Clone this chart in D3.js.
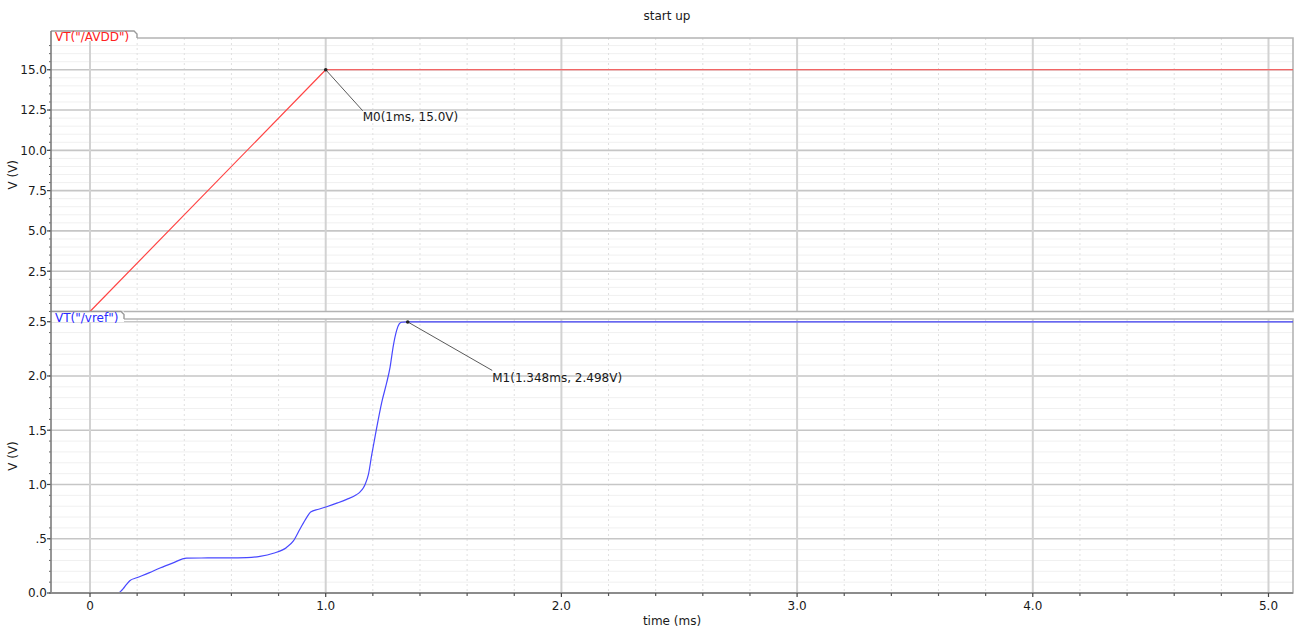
<!DOCTYPE html>
<html>
<head>
<meta charset="utf-8">
<script src="https://cdn.jsdelivr.net/npm/d3@7"></script>
<style>
  body { margin: 0; background: #fff; }
  svg { display: block; }
  text { font-family: "DejaVu Sans", sans-serif; font-size: 12px; fill: #1a1a1a; }
</style>
</head>
<body>
<svg id="chart" width="1298" height="629"></svg>
<script>
// ---- text ----
const chartTitle = "start up";
const xLabel = "time (ms)";
const yLabel = "V (V)";
const avddName = 'VT("/AVDD")';
const vrefName = 'VT("/vref")';

// ---- axis ticks ----
const timeTicks = [0, 1, 2, 3, 4, 5];
const timeTickLabels = ["0", "1.0", "2.0", "3.0", "4.0", "5.0"];
const avddTicks = [2.5, 5, 7.5, 10, 12.5, 15];
const avddTickLabels = ["2.5", "5.0", "7.5", "10.0", "12.5", "15.0"];
const vrefTicks = [0, 0.5, 1, 1.5, 2, 2.5];
const vrefTickLabels = ["0.0", ".5", "1.0", "1.5", "2.0", "2.5"];

// ---- waveforms (time in ms, voltage in V) ----
const avddTime = [0, 1.0, 5.104];
const avddVolt = [0, 15.0, 15.0];

const vrefTime = [0, 0.12, 0.13, 0.141, 0.155, 0.17, 0.198, 0.25, 0.297, 0.35, 0.41,
  0.5, 0.6, 0.665, 0.721, 0.778, 0.834, 0.863, 0.891, 0.919, 0.936, 0.97, 1.004,
  1.05, 1.089, 1.13, 1.146, 1.16, 1.167, 1.181, 1.195, 1.216, 1.238, 1.259, 1.273,
  1.287, 1.301, 1.312, 1.322, 1.348, 5.104];
const vrefVolt = [0, 0, 0.015, 0.04, 0.08, 0.115, 0.14, 0.185, 0.23, 0.275, 0.322,
  0.323, 0.324, 0.326, 0.337, 0.366, 0.42, 0.48, 0.59, 0.695, 0.747, 0.772, 0.795,
  0.83, 0.863, 0.905, 0.932, 0.97, 1.0, 1.09, 1.27, 1.52, 1.76, 1.94, 2.08,
  2.28, 2.42, 2.48, 2.495, 2.498, 2.498];

// ---- markers ----
const markerPanel = [0, 1];
const markerTime = [1.0, 1.348];
const markerVolt = [15.0, 2.498];
const markerText = ["M0(1ms, 15.0V)", "M1(1.348ms, 2.498V)"];

// ---- layout ----
const svg = d3.select("#chart");
const L = 51, R = 1293;
const x = d3.scaleLinear().domain([-0.1655, 5.104]).range([L, R]);

const panels = [
  { top: 38, bottom: 311.5, y: d3.scaleLinear().domain([0, 16.97]).range([311.5, 38]),
    ticks: avddTicks, labels: avddTickLabels, minor: 0.5,
    t: avddTime, v: avddVolt, color: "#ff4646", name: avddName, tabW: 86, curve: d3.curveLinear },
  { top: 319, bottom: 593, y: d3.scaleLinear().domain([0, 2.525]).range([593, 319]),
    ticks: vrefTicks, labels: vrefTickLabels, minor: 0.1,
    t: vrefTime, v: vrefVolt, color: "#4848ff", name: vrefName, tabW: 73, curve: d3.curveMonotoneX }
];

const minorT = d3.range(-0.2, 5.2001, 0.2).map(d => +d.toFixed(2))
  .filter(d => x(d) > L && x(d) < R && !timeTicks.includes(d));

panels.forEach((p, i) => {
  const g = svg.append("g");
  const [d0, d1] = p.y.domain();
  const clipId = "clip" + i;
  svg.append("clipPath").attr("id", clipId)
    .append("rect").attr("x", L).attr("y", p.top - 1).attr("width", R - L).attr("height", p.bottom - p.top + 2);

  // minor horizontal grid
  const minorV = d3.range(p.minor, d1, p.minor).map(d => +d.toFixed(2))
    .filter(d => !p.ticks.some(t => Math.abs(t - d) < 1e-6));
  g.selectAll(".mh").data(minorV).join("line")
    .attr("x1", L).attr("x2", R)
    .attr("y1", d => p.y(d)).attr("y2", d => p.y(d))
    .attr("stroke", "#f0f0f0").attr("stroke-width", 1);

  // minor vertical grid (dotted)
  g.selectAll(".mv").data(minorT).join("line")
    .attr("x1", d => x(d)).attr("x2", d => x(d))
    .attr("y1", p.top).attr("y2", p.bottom)
    .attr("stroke", "#e0e0e0").attr("stroke-width", 1).attr("stroke-dasharray", "2,3");

  // major horizontal grid
  g.selectAll(".Mh").data(p.ticks.filter(d => d > 0)).join("line")
    .attr("x1", L).attr("x2", R)
    .attr("y1", d => p.y(d)).attr("y2", d => p.y(d))
    .attr("stroke", "#c6c6c6").attr("stroke-width", 1.6);

  // major vertical grid
  g.selectAll(".Mv").data(timeTicks).join("line")
    .attr("x1", d => x(d)).attr("x2", d => x(d))
    .attr("y1", p.top).attr("y2", p.bottom)
    .attr("stroke", "#d2d2d2").attr("stroke-width", 2);

  // frame
  g.append("path")
    .attr("d", `M${L + p.tabW},${p.top}H${R}V${p.bottom}H${L}`)
    .attr("fill", "none").attr("stroke", "#b4b4b4").attr("stroke-width", 1.6);

  // waveform
  const pts = p.t.map((t, k) => [t, p.v[k]]);
  g.append("path")
    .datum(pts)
    .attr("clip-path", `url(#${clipId})`)
    .attr("d", d3.line().curve(p.curve).x(d => x(d[0])).y(d => p.y(d[1])))
    .attr("fill", "none").attr("stroke", p.color).attr("stroke-width", 1.2)
    .attr("stroke-linejoin", "round");

  // trace tab
  const tabTop = i === 0 ? 31 : 311.5;
  const tx = L + p.tabW;
  g.append("rect").attr("x", L).attr("y", tabTop).attr("width", p.tabW).attr("height", p.top - tabTop + 3)
    .attr("fill", "#fff");
  g.append("path")
    .attr("d", `M${L},${tabTop}H${tx - 3}L${tx},${tabTop + 3}V${p.top}`)
    .attr("fill", "none").attr("stroke", "#9a9a9a").attr("stroke-width", 1.4);
  g.append("text").attr("x", L + 4).attr("y", p.top + 2.5)
    .style("fill", p.color === "#ff4646" ? "#ff2020" : "#2a2aff").text(p.name);

  // y tick marks and labels
  const minorAll = d3.range(0, d1, p.minor).map(d => +d.toFixed(2));
  g.selectAll(".mt").data(minorAll).join("line")
    .attr("x1", L - 2).attr("x2", L).attr("y1", d => p.y(d)).attr("y2", d => p.y(d))
    .attr("stroke", "#666").attr("stroke-width", 1);
  g.selectAll(".Mt").data(p.ticks).join("line")
    .attr("x1", L - 4).attr("x2", L).attr("y1", d => p.y(d)).attr("y2", d => p.y(d))
    .attr("stroke", "#444").attr("stroke-width", 1.2);
  g.selectAll(".tl").data(p.ticks).join("text")
    .attr("x", L - 4).attr("y", d => p.y(d) + 4.3)
    .attr("text-anchor", "end")
    .text((d, k) => p.labels[k]);

  // y axis title
  const cy = (p.top + p.bottom) / 2;
  g.append("text")
    .attr("transform", `translate(16.5,${cy}) rotate(-90)`)
    .attr("text-anchor", "middle").text(yLabel);
});

// left axis spine
svg.append("line").attr("x1", L).attr("x2", L).attr("y1", 31).attr("y2", 594)
  .attr("stroke", "#7c7c7c").attr("stroke-width", 1.6);

// bottom time axis
const yAxisLine = 593;
svg.append("line").attr("x1", L).attr("x2", R).attr("y1", yAxisLine).attr("y2", yAxisLine)
  .attr("stroke", "#8c8c8c").attr("stroke-width", 2);
svg.selectAll(".xt").data(minorT).join("line")
  .attr("x1", d => x(d)).attr("x2", d => x(d))
  .attr("y1", yAxisLine).attr("y2", yAxisLine + 3)
  .attr("stroke", "#555").attr("stroke-width", 1.2);
svg.selectAll(".xT").data(timeTicks).join("line")
  .attr("x1", d => x(d)).attr("x2", d => x(d))
  .attr("y1", yAxisLine).attr("y2", yAxisLine + 4)
  .attr("stroke", "#444").attr("stroke-width", 1.2);
svg.selectAll(".xl").data(timeTicks).join("text")
  .attr("x", d => x(d)).attr("y", 609.5)
  .attr("text-anchor", "middle")
  .text((d, k) => timeTickLabels[k]);
svg.append("text").attr("x", 672).attr("y", 624.5).attr("text-anchor", "middle").text(xLabel);

// title
svg.append("text").attr("x", 667).attr("y", 19.5).attr("text-anchor", "middle").text(chartTitle);

// markers with leader lines
const markerOffsets = [[37, 41, 51], [84.5, 48.5, 60]];
markerTime.forEach((t, k) => {
  const p = panels[markerPanel[k]];
  const px = x(t), py = p.y(markerVolt[k]);
  const [dx, dy, ty] = markerOffsets[k];
  svg.append("line").attr("x1", px).attr("y1", py).attr("x2", px + dx).attr("y2", py + dy)
    .attr("stroke", "#5a5a5a").attr("stroke-width", 1);
  svg.append("circle").attr("cx", px).attr("cy", py).attr("r", 1.8).attr("fill", "#222");
  svg.append("text").attr("x", px + dx).attr("y", py + ty).text(markerText[k]);
});
</script>
</body>
</html>
